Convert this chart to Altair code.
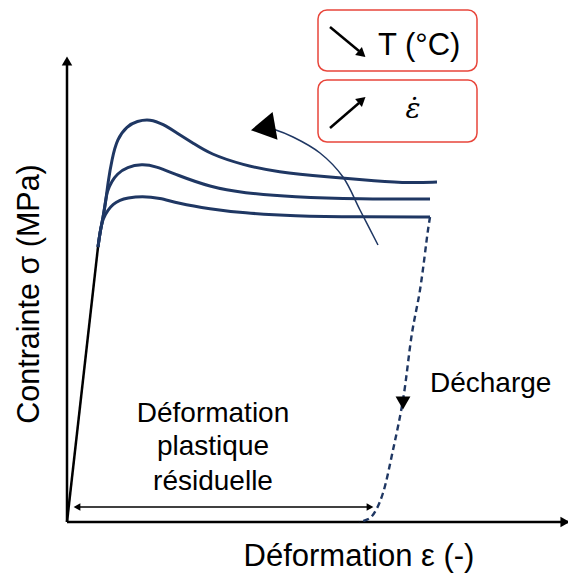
import altair as alt
import pandas as pd

# ---- schematic data (arbitrary units: strain along x, stress along y) ----
elastic_x = [0, 31]
elastic_y = [0, 275]

trunk_x = [31, 33, 36]
trunk_y = [275, 290, 304]

c_high_x = [39, 41, 45, 50, 60, 70, 83, 96, 110, 126, 143, 176, 210, 260, 310, 343, 370]
c_high_y = [322, 340, 363, 383, 396, 401, 403, 398, 389, 379, 368, 357, 350, 345, 341, 339, 340]

c_mid_x = [38, 40, 45, 50, 60, 75, 88, 110, 143, 176, 226, 293, 363]
c_mid_y = [317, 331, 341, 348, 355, 358, 356, 347, 335, 329, 325, 323, 323]

c_low_x = [41, 46, 53, 60, 75, 93, 110, 143, 176, 226, 293, 363]
c_low_y = [312, 318, 322, 324, 326, 324, 319, 313, 309, 306, 305, 305]

unload_x = [363, 361, 353, 345, 336, 326, 316, 309, 303, 296, 292]
unload_y = [305, 292, 232, 189, 122, 72, 29, 12, 4, 1, 0]

trend_x = [311, 293, 276, 253, 226, 206, 198]
trend_y = [277, 312, 345, 369, 385, 393, 395]

NAVY = "#1f3763"
RED = "#e8463b"
FONT = "Liberation Sans"

xs = alt.Scale(domain=[-59, 501], nice=False, zero=False)
ys = alt.Scale(domain=[-51, 514], nice=False, zero=False)


def X(f="x"):
    return alt.X(f"{f}:Q", scale=xs, axis=None)


def Y(f="y"):
    return alt.Y(f"{f}:Q", scale=ys, axis=None)


# curves table
rows = []
for name, cx, cy in [("high", c_high_x, c_high_y), ("mid", c_mid_x, c_mid_y), ("low", c_low_x, c_low_y)]:
    xx = trunk_x + cx
    yy = trunk_y + cy
    for i, (a, b) in enumerate(zip(xx, yy)):
        rows.append({"curve": name, "i": i, "x": a, "y": b})
curves_df = pd.DataFrame(rows)

elastic_df = pd.DataFrame({"x": elastic_x, "y": elastic_y, "i": [0, 1]})
unload_df = pd.DataFrame({"x": unload_x, "y": unload_y, "i": list(range(len(unload_x)))})
trend_df = pd.DataFrame({"x": trend_x, "y": trend_y, "i": list(range(len(trend_x)))})

boxes_df = pd.DataFrame({"x": [251, 251], "x2": [410, 410], "y": [512, 442], "y2": [451, 380]})

axes_df = pd.DataFrame({"x": [0, 0], "x2": [0, 501], "y": [0, 0], "y2": [458, 0]})
box_arrows_df = pd.DataFrame({"x": [263, 263], "x2": [292, 292], "y": [495, 394], "y2": [471, 419]})
resid_df = pd.DataFrame({"x": [10], "x2": [303], "y": [15], "y2": [15]})

heads_df = pd.DataFrame({
    "x": [0, 498, 336, 196, 10, 303, 295, 295],
    "y": [461, 0, 119, 394, 15, 15, 468, 422],
    "shape": ["triangle-up", "triangle-right", "triangle-down", "triangle-left",
              "triangle-left", "triangle-right", "triangle-right", "triangle-right"],
    "angle": [0, 0, 0, 350, 0, 0, 40, 320],
    "size": [110, 110, 220, 800, 60, 60, 110, 110],
})

boxes = alt.Chart(boxes_df).mark_rect(cornerRadius=9, fill="white", stroke=RED, strokeWidth=1.5).encode(
    x=X(), x2="x2:Q", y=Y(), y2="y2:Q")

axes = alt.Chart(axes_df).mark_rule(color="black", strokeWidth=2.5).encode(
    x=X(), x2="x2:Q", y=Y(), y2="y2:Q")

elastic = alt.Chart(elastic_df).mark_line(color="black", strokeWidth=2.5).encode(
    x=X(), y=Y(), order="i:Q")

curves = alt.Chart(curves_df).mark_line(color=NAVY, strokeWidth=3, interpolate="basis").encode(
    x=X(), y=Y(), detail="curve:N", order="i:Q")

unload = alt.Chart(unload_df).mark_line(color=NAVY, strokeWidth=2.4, strokeDash=[6, 4],
                                        interpolate="catmull-rom").encode(
    x=X(), y=Y(), order="i:Q")

trend = alt.Chart(trend_df).mark_line(color=NAVY, strokeWidth=1.5, interpolate="catmull-rom").encode(
    x=X(), y=Y(), order="i:Q")

resid = alt.Chart(resid_df).mark_rule(color="black", strokeWidth=1.3).encode(
    x=X(), x2="x2:Q", y=Y(), y2="y2:Q")

box_arrows = alt.Chart(box_arrows_df).mark_rule(color="black", strokeWidth=2.5).encode(
    x=X(), x2="x2:Q", y=Y(), y2="y2:Q")

heads = alt.Chart(heads_df).mark_point(filled=True, opacity=1, color="black", strokeWidth=0).encode(
    x=X(), y=Y(),
    shape=alt.Shape("shape:N", scale=None),
    angle=alt.Angle("angle:Q", scale=None),
    size=alt.Size("size:Q", scale=None))

# texts
x_title = alt.Chart(pd.DataFrame({"x": [292], "y": [-44], "t": ["Déformation ε (-)"]})).mark_text(
    font=FONT, fontSize=31, align="center", baseline="alphabetic", color="black").encode(
    x=X(), y=Y(), text="t:N")

y_title = alt.Chart(pd.DataFrame({"x": [-37], "y": [228], "t": ["Contrainte σ (MPa)"]})).mark_text(
    font=FONT, fontSize=30.5, align="center", baseline="middle", angle=270, color="black").encode(
    x=X(), y=Y(), text="t:N")

resid_text = alt.Chart(pd.DataFrame({"x": [146, 146, 146], "y": [100, 67, 32],
                                     "t": ["Déformation", "plastique", "résiduelle"]})).mark_text(
    font=FONT, fontSize=28, align="center", baseline="alphabetic", color="black").encode(
    x=X(), y=Y(), text="t:N")

decharge = alt.Chart(pd.DataFrame({"x": [363], "y": [130], "t": ["Décharge"]})).mark_text(
    font=FONT, fontSize=28, align="left", baseline="alphabetic", color="black").encode(
    x=X(), y=Y(), text="t:N")

temp_text = alt.Chart(pd.DataFrame({"x": [311], "y": [467], "t": ["T (°C)"]})).mark_text(
    font=FONT, fontSize=31, align="left", baseline="alphabetic", color="black").encode(
    x=X(), y=Y(), text="t:N")

rate_text = alt.Chart(pd.DataFrame({"x": [346], "y": [404], "t": ["ε̇"]})).mark_text(
    font="DejaVu Serif", fontStyle="italic", fontSize=28, align="center", baseline="alphabetic",
    color="black").encode(
    x=X(), y=Y(), text="t:N")

chart = alt.layer(
    boxes, axes, elastic, curves, unload, trend, resid, box_arrows, heads,
    x_title, y_title, resid_text, decharge, temp_text, rate_text
).properties(
    width=560, height=565, padding=0, autosize=alt.AutoSizeParams(type="none")
).configure_view(stroke=None)

chart.save("out.html", embed_options={"renderer": "svg", "actions": False})
